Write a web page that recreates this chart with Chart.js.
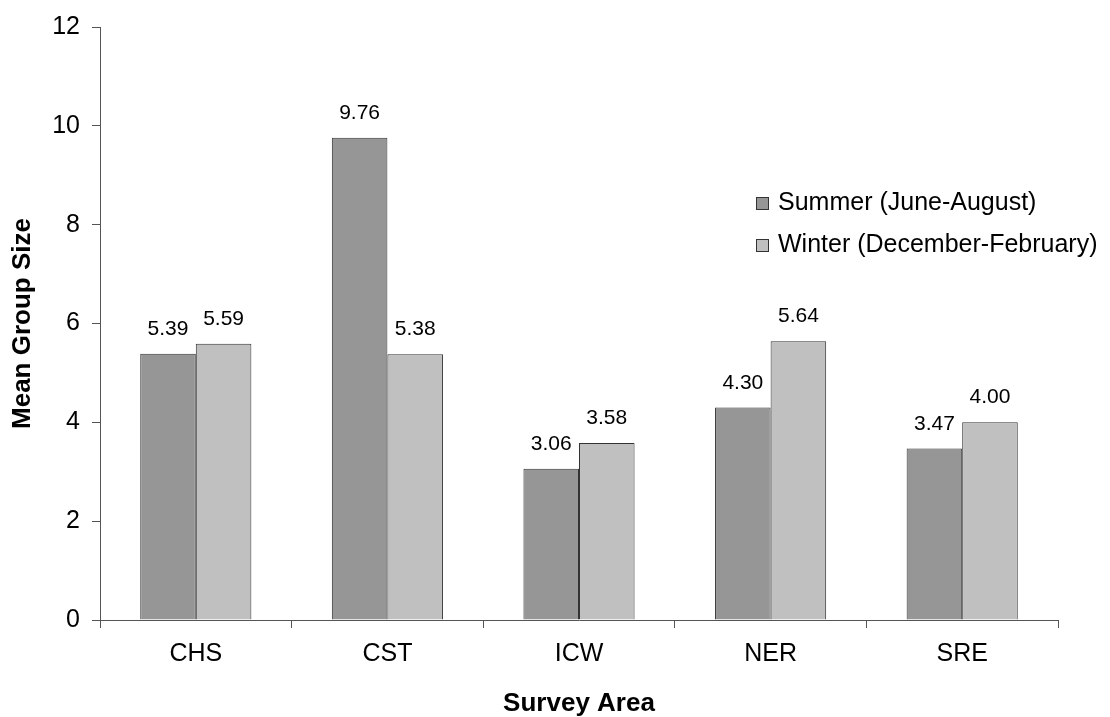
<!DOCTYPE html>
<html>
<head>
<meta charset="utf-8">
<script src="https://cdn.jsdelivr.net/npm/chart.js@4"></script>
<style>
  html, body { margin: 0; padding: 0; background: #fff; }
  #wrap { width: 1110px; height: 717px; }
</style>
</head>
<body>
<div id="wrap"><canvas id="chart" width="1110" height="717"></canvas></div>
<script>
// chart data
const areas = ['CHS', 'CST', 'ICW', 'NER', 'SRE'];
const summerSizes = [5.39, 9.76, 3.06, 4.30, 3.47];
const winterSizes = [5.59, 5.38, 3.58, 5.64, 4.00];
const seriesNames = ['Summer (June-August)', 'Winter (December-February)'];
const yTicks = [0, 2, 4, 6, 8, 10, 12];

const FONT = 'Arial, "Liberation Sans", sans-serif';
const axisColor = '#555';

// value labels above each bar
const barLabels = {
    id: 'barLabels',
    afterDatasetsDraw(chart) {
        const ctx = chart.ctx;
        ctx.save();
        ctx.font = '21px ' + FONT;
        ctx.fillStyle = '#000';
        ctx.textAlign = 'center';
        ctx.textBaseline = 'alphabetic';
        chart.data.datasets.forEach((ds, i) => {
            chart.getDatasetMeta(i).data.forEach((bar, j) => {
                ctx.fillText(ds.data[j].toFixed(2), bar.x, bar.y - 19);
            });
        });
        ctx.restore();
    }
};

// legend sitting inside the plot, right side
const insideLegend = {
    id: 'insideLegend',
    afterDraw(chart) {
        const ctx = chart.ctx;
        ctx.save();
        ctx.font = '25px ' + FONT;
        ctx.textBaseline = 'middle';
        ctx.textAlign = 'left';
        chart.data.datasets.forEach((ds, i) => {
            const y = 203 + i * 42;
            ctx.fillStyle = ds.backgroundColor;
            ctx.fillRect(756, y - 6, 13, 13);
            ctx.strokeStyle = '#333';
            ctx.lineWidth = 1;
            ctx.strokeRect(756.5, y - 5.5, 12, 12);
            ctx.fillStyle = '#000';
            ctx.fillText(ds.label, 778, y);
        });
        ctx.restore();
    }
};

new Chart(document.getElementById('chart').getContext('2d'), {
    type: 'bar',
    data: {
        labels: areas,
        datasets: [
            { label: seriesNames[0], data: summerSizes, backgroundColor: '#969696', borderColor: '#333', borderWidth: 1 },
            { label: seriesNames[1], data: winterSizes, backgroundColor: '#C0C0C0', borderColor: '#333', borderWidth: 1 }
        ]
    },
    options: {
        responsive: false,
        animation: false,
        datasets: { bar: { categoryPercentage: 0.58, barPercentage: 1 } },
        layout: { padding: { top: 27, right: 52, left: 0, bottom: 0 } },
        plugins: { legend: { display: false }, tooltip: { enabled: false } },
        scales: {
            x: {
                afterFit: s => { s.height = 97; },
                grid: { display: true, drawOnChartArea: false, offset: true, tickLength: 8, color: axisColor },
                border: { display: true, color: axisColor, width: 1 },
                ticks: { color: '#000', font: { family: FONT, size: 25 }, padding: 11 },
                title: { display: true, text: 'Survey Area', color: '#000', font: { family: FONT, size: 26, weight: 'bold' }, padding: { top: 0, bottom: -2 } }
            },
            y: {
                min: 0,
                max: 12,
                afterFit: s => { s.width = 100; },
                afterBuildTicks: s => { s.ticks = yTicks.map(v => ({ value: v })); },
                grid: { display: true, drawOnChartArea: false, tickLength: 8, color: axisColor },
                border: { display: true, color: axisColor, width: 1 },
                ticks: { color: '#000', font: { family: FONT, size: 25 }, padding: 12 },
                title: { display: true, text: 'Mean Group Size', color: '#000', font: { family: FONT, size: 26, weight: 'bold' }, padding: { top: 7, bottom: 0 } }
            }
        }
    },
    plugins: [barLabels, insideLegend]
});
</script>
</body>
</html>
